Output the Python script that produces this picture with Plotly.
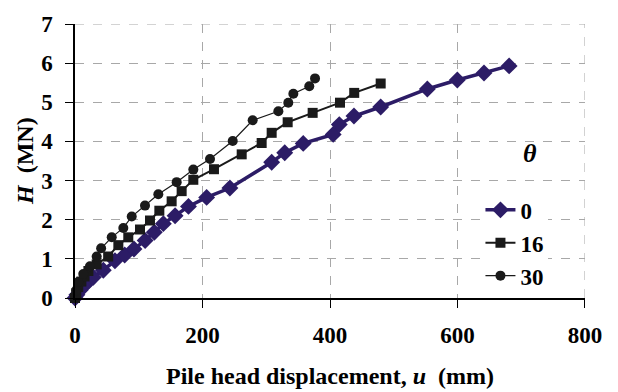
import plotly.graph_objects as go

# theta = 0
u0 = [0, 3, 8, 14, 21, 28.7, 44.4, 62.7, 78, 92.5, 110, 124.4, 138.6, 157, 178, 206.5, 243,
      308.5, 329, 358, 405, 414.6, 437.6, 479.5, 552.7, 599.7, 641.6, 681]
h0 = [0, 0.08, 0.2, 0.32, 0.42, 0.53, 0.71, 0.95, 1.1, 1.25, 1.47, 1.68, 1.9, 2.1, 2.34, 2.57, 2.81,
      3.47, 3.71, 3.95, 4.18, 4.43, 4.65, 4.88, 5.34, 5.57, 5.75, 5.93]
# theta = 16
u16 = [0, 2, 5, 10, 15, 21, 34, 52, 68, 83.6, 102, 117.6, 132.3, 151.6, 167.3, 185.6, 218,
       261.5, 292.8, 308.5, 333.6, 372.8, 415.7, 438, 479.5]
h16 = [0, 0.12, 0.28, 0.42, 0.55, 0.69, 0.86, 1.06, 1.35, 1.55, 1.75, 1.98, 2.23, 2.47, 2.73, 3.02, 3.29,
       3.67, 3.96, 4.22, 4.49, 4.73, 4.99, 5.24, 5.48]
# theta = 30
u30 = [0, 2, 5, 13, 23.5, 34, 41, 57.6, 75.8, 89, 109.8, 130.7, 159.5, 185.6, 211.8, 247.4,
       278.7, 319, 334.6, 342.5, 367.5, 376.5]
h30 = [0, 0.2, 0.41, 0.61, 0.81, 1.06, 1.27, 1.55, 1.79, 2.08, 2.36, 2.65, 2.96, 3.28, 3.55, 4.01,
       4.54, 4.77, 4.99, 5.22, 5.41, 5.61]

x_ticks = [0, 200, 400, 600, 800]
y_ticks = [0, 1, 2, 3, 4, 5, 6, 7]
series_names = ["0", "16", "30"]

FONT = "Liberation Serif, Times New Roman, serif"
NAVY = "#2C1C66"
BLACK = "#1A1A1A"
GRID = "#A8A8A8"

fig = go.Figure()
fig.add_trace(go.Scatter(x=u0, y=h0, name=series_names[0], mode="lines+markers", legendgroup="a",
                         line=dict(color=NAVY, width=3.5),
                         marker=dict(symbol="diamond", size=13, color=NAVY), cliponaxis=False))
fig.add_trace(go.Scatter(x=u16, y=h16, name=series_names[1], mode="lines+markers", legendgroup="b",
                         line=dict(color=BLACK, width=2),
                         marker=dict(symbol="square", size=10, color=BLACK), cliponaxis=False))
fig.add_trace(go.Scatter(x=u30, y=h30, name=series_names[2], mode="lines+markers", legendgroup="c",
                         line=dict(color=BLACK, width=1.2),
                         marker=dict(symbol="circle", size=10, color=BLACK), cliponaxis=False))

axis_common = dict(
    showline=True, linecolor="black", linewidth=1.5,
    ticks="outside", ticklen=8, tickcolor="black", tickwidth=1,
    showgrid=True, gridcolor=GRID, griddash="dash", gridwidth=1,
    zeroline=False,
    tickfont=dict(family=FONT, size=23, color="black", weight="bold"),
)

fig.update_xaxes(range=[0, 800.01], tickvals=x_ticks, ticklabelstandoff=8, **axis_common)
fig.update_yaxes(range=[0, 7.0001], tickvals=y_ticks, ticklabelstandoff=8, **axis_common)

# dashed border lines at top / right (grid at range ends)
shapes = [
    dict(type="line", xref="paper", yref="y", x0=0, x1=1, y0=7, y1=7,
         line=dict(color=GRID, width=1, dash="dash"), layer="below"),
    dict(type="line", xref="x", yref="paper", x0=800, x1=800, y0=0, y1=1,
         line=dict(color=GRID, width=1, dash="dash"), layer="below"),
]

fig.update_layout(
    width=618, height=392,
    margin=dict(l=75, r=33, t=12, b=94),
    plot_bgcolor="white", paper_bgcolor="white",
    font=dict(family=FONT, size=22, color="black"),
    shapes=shapes,
    legend=dict(x=0.795, y=0.40, xanchor="left", yanchor="top",
                bgcolor="white", borderwidth=0, tracegroupgap=0,
                font=dict(family=FONT, size=23, color="black", weight="bold")),
    annotations=[
        dict(text="<b>Pile head displacement, <i>u</i>  (mm)</b>", xref="paper", yref="paper",
             x=0.5, y=0, yshift=-78, showarrow=False, xanchor="center", yanchor="middle",
             font=dict(family=FONT, size=24, color="black")),
        dict(text="<b><i>H</i>  (MN)</b>", xref="paper", yref="paper", textangle=-90,
             x=0, xshift=-50, y=0.5, showarrow=False, xanchor="center", yanchor="middle",
             font=dict(family=FONT, size=24, color="black")),
        dict(text="<b><i>θ</i></b>", xref="paper", yref="paper",
             x=(530 - 75) / 510, y=(298.3 - 147) / 286, showarrow=False,
             xanchor="center", yanchor="middle",
             font=dict(family=FONT, size=26, color="black")),
    ],
)

fig.write_html("out.html")
